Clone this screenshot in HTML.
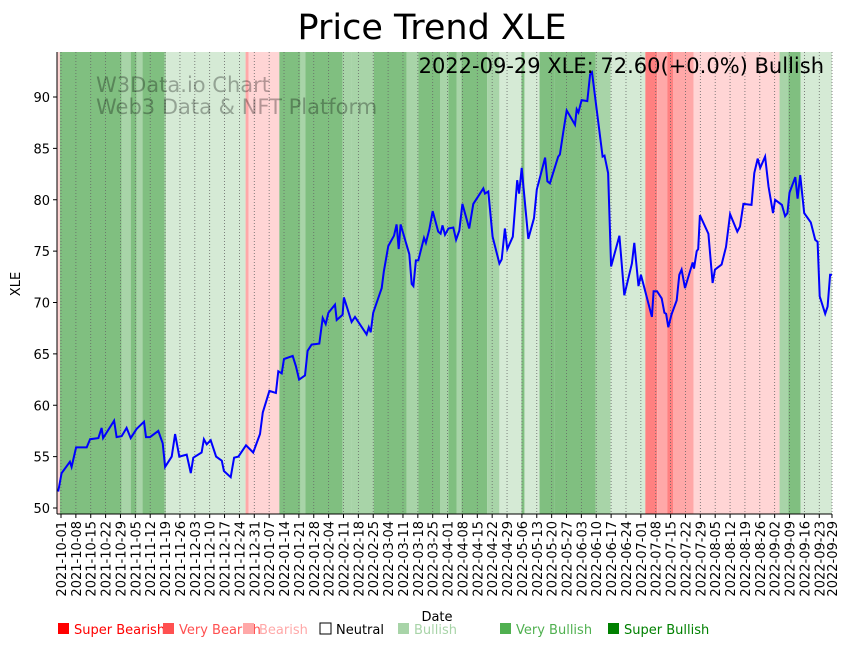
<!DOCTYPE html>
<html><head><meta charset="utf-8"><style>
body{margin:0;background:#fff;font-family:"Liberation Sans","DejaVu Sans",sans-serif}
svg text{font-family:"DejaVu Sans","Liberation Sans",sans-serif}
</style></head><body>
<svg id="c" width="851" height="646" xmlns="http://www.w3.org/2000/svg">
<text x="432" y="39" font-size="35" text-anchor="middle">Price Trend XLE</text>
<g id="bands"></g><g id="grid"></g>
<text x="96" y="92" font-size="21" fill="#000" fill-opacity="0.3">W3Data.io Chart</text>
<text x="96" y="114" font-size="21" fill="#000" fill-opacity="0.3">Web3 Data &amp; NFT Platform</text>
<path id="line" fill="none" stroke="#0000ff" stroke-width="2"/>
<text x="824" y="73" font-size="21" text-anchor="end">2022-09-29 XLE: 72.60(+0.0%) Bullish</text>
<line x1="57" y1="52" x2="57" y2="514" stroke="#000"/>
<line x1="57" y1="514" x2="832" y2="514" stroke="#000"/>
<g id="yt"></g><g id="xt"></g>
<text transform="translate(20,284) rotate(-90)" font-size="13" text-anchor="middle">XLE</text>
<text x="437" y="621" font-size="13" text-anchor="middle">Date</text>
<g id="legend" font-size="13"></g>
</svg>
<script>
const days=[-1.3,0.3,4.2,5,7.1,12.1,13.7,17.6,19.1,19.8,25,26.2,28.6,30.9,32.8,35.6,39.1,40,41.9,45.8,47.9,49,52.1,53.7,55.7,59.2,61.1,62.3,66.2,67.3,68.6,70.5,73,75.7,76.7,79.9,81.5,83.5,87.1,90.5,93.7,95,98.1,101.2,102.3,103.9,105,109.1,110.6,112.1,114.9,116.1,118,121.6,123.2,124.6,125.9,129,129.8,132.6,133.2,136.8,138.4,143.9,144.9,145.8,147,151,152,154.1,156.8,158,159,159.9,164,165.1,165.9,167.1,168.2,170.9,171.8,173.4,175,177.6,178.7,179.6,180.8,182.4,184.7,186,187.5,189,192.2,194.1,198.8,199.6,201.2,203.2,206.4,207.5,209,210.1,212.7,214.8,215.7,216.9,220,222.7,224,227.9,229,230.2,234.1,234.9,236.5,238.1,242,242.8,243.6,245.1,247.8,249.1,250,255,255.9,257.6,259,262.9,265.2,268.8,269.9,271.9,273,274.3,278.2,279,280.6,282.8,284.1,284.9,285.9,287.4,289.9,291.1,292.2,293.8,297.4,298,299.3,300,300.8,304.8,306.8,307.9,311,313.1,315,318.4,319.7,321.3,325.1,326.4,328,329.2,331.5,333.1,335.2,336.2,339.4,340.9,342,343,345.7,346.8,348,349.9,353,355.1,356.2,357.2,359.8,360.9,362.1,363];
const prices=[51.6,53.4,54.5,54,55.9,55.9,56.7,56.8,57.8,56.8,58.5,56.9,57,57.8,56.8,57.7,58.4,56.9,56.9,57.5,56.3,54,55,57.2,55,55.2,53.4,54.9,55.4,56.7,56.2,56.6,55,54.6,53.6,53,54.9,55,56.1,55.4,57.2,59.3,61.4,61.2,63.3,63.1,64.5,64.8,63.8,62.5,62.9,65.3,65.9,66,68.5,67.9,69,69.8,68.3,68.8,70.5,68.1,68.6,66.9,67.6,67.1,69,71.4,73,75.5,76.5,77.6,75.2,77.6,74.7,71.8,71.6,74.1,74.1,76.3,75.8,77.1,78.9,76.9,76.7,77.5,76.6,77.2,77.3,76.1,77,79.6,77.2,79.6,81.1,80.6,80.8,76.4,73.8,74.2,77.2,75.2,76.4,81.9,80.6,83.1,76.2,78.2,81,84.1,81.8,81.6,84.2,84.4,86.6,88.7,87.3,88.8,88.5,89.7,89.6,92.2,92.4,84.2,84.3,82.6,73.5,76.5,70.7,73.8,75.8,71.6,72.7,71.7,68.6,71.1,71.1,70.4,69,68.9,67.6,68.8,70.2,72.7,73.2,71.4,73.9,73.3,75,75.2,78.5,76.7,71.9,73.2,73.7,75.4,78.6,76.9,77.4,79.6,79.5,82.6,84,83.1,84.2,81.3,78.7,80,79.5,78.4,78.7,80.7,82.2,80.1,82.4,78.7,77.8,76.1,75.9,70.6,68.9,69.6,72.7,72.7];
// background regime bands: start day, end day, regime level
const bandStart=[-2,-0.5,28.6,32.8,35.6,38.4,48.7,49.5,86.9,88.3,102.8,112.7,115,132.6,136.8,147.2,162.7,168.3,178.6,182.4,186.2,188.5,200.7,206.4,216.8,218.2,225.3,232.3,251.7,258.8,275.1,280.7,285.4,288.3,297.8,338.3,342.5,348.2];
const bandEnd=[-0.5,28.6,32.8,35.6,38.4,48.7,49.5,86.9,88.3,102.8,112.7,115,132.6,136.8,147.2,162.7,168.3,178.6,182.4,186.2,188.5,200.7,206.4,216.8,218.2,225.3,232.3,251.7,258.8,275.1,280.7,285.4,288.3,297.8,338.3,342.5,348.2,363];
const bandLevel=[-1,2,1,2,1,2,1,0.5,-2,-1,2,1,2,1,1,2,1,2,1,2,1,2,1,0.5,2,0.5,2,2,1,0.5,-3,-2,-3,-2,-1,1,2,0.5];
const yTicks=[50,55,60,65,70,75,80,85,90];
const start=new Date(Date.UTC(2021,9,1));
const tickDays=[];for(let i=0;i<=51;i++)tickDays.push(i*7);tickDays.push(363);
const legendLabels=["Super Bearish","Very Bearish","Bearish","Neutral","Bullish","Very Bullish","Super Bullish"];
const legendColors=["#ff0000","#ff5050","#ffa8a8","#ffffff","#a8d4a8","#50b050","#008000"];

const X=d=>61+d*2.124, Y=v=>508-(v-50)*10.275;
const NS="http://www.w3.org/2000/svg";
function mk(t,a,p){const e=document.createElementNS(NS,t);for(const k in a)e.setAttribute(k,a[k]);p.appendChild(e);return e;}
const colorOf={"-3":"#ff8080","-2":"#ffa8a8","-1":"#ffd5d5","0.5":"#d5ead5","1":"#a8d4a8","2":"#80bf80","3":"#55aa55"};
const bg=document.getElementById('bands');
bandStart.forEach((s,i)=>{const x1=Math.max(57,X(s)),x2=Math.min(832,X(bandEnd[i]));
 const r=mk('rect',{x:x1,y:52,width:Math.max(0,x2-x1),height:462,fill:colorOf[String(bandLevel[i])]},bg);
 
 });
const gr=document.getElementById('grid'),xt=document.getElementById('xt'),yt=document.getElementById('yt');
tickDays.forEach(d=>{const x=X(d);
 mk('line',{x1:x,y1:52,x2:x,y2:514,stroke:'#666','stroke-width':0.8,'stroke-dasharray':'1,2'},gr);
 mk('line',{x1:x,y1:514,x2:x,y2:518,stroke:'#000'},xt);
 const dt=new Date(start.getTime()+d*86400000);
 const t=mk('text',{transform:`translate(${x+5},521) rotate(-90)`,'font-size':13,'text-anchor':'end'},xt);
 t.textContent=dt.toISOString().slice(0,10);
 
 });
yTicks.forEach(v=>{const y=Y(v);mk('line',{x1:53,y1:y,x2:57,y2:y,stroke:'#000'},yt);
 const t=mk('text',{x:50,y:y+5,'font-size':13,'text-anchor':'end'},yt);t.textContent=v;
 
 });
document.getElementById('line').setAttribute('d',days.map((d,i)=>(i?'L':'M')+X(d).toFixed(1)+','+Y(prices[i]).toFixed(1)).join(''));
const lg=document.getElementById('legend');const lx=[58,163,243,320,398,500,608];
legendLabels.forEach((l,i)=>{const g=mk('g',{},lg);
 
 
 mk('rect',{x:lx[i],y:623,width:11,height:11,fill:legendColors[i],stroke:i==3?'#000':'none'},g);
 const t=mk('text',{x:lx[i]+16,y:634,fill:i==3?'#000':legendColors[i]},g);t.textContent=l;});
</script>
</body></html>
